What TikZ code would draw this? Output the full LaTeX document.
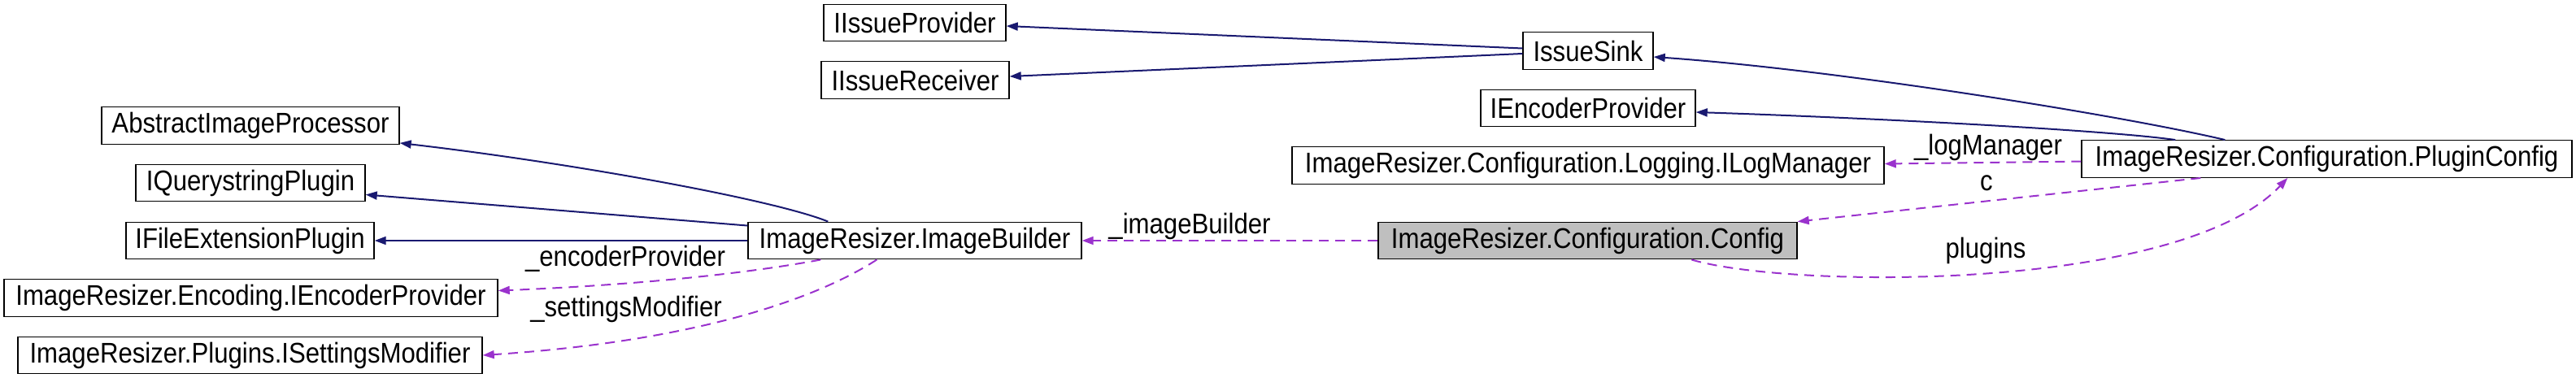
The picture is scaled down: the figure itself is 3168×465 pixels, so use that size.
\documentclass[tikz,border=0pt]{standalone}
\usepackage{fontspec}
\setmainfont[FakeStretch=0.89]{Liberation Sans}
\usetikzlibrary{arrows.meta,calc}
\definecolor{edgeblue}{HTML}{191970}
\definecolor{edgepurple}{HTML}{9A32CD}
\definecolor{cfggray}{HTML}{BFBFBF}
\begin{document}
\begin{tikzpicture}[x=0.5pt,y=-0.5pt,
  font=\fontsize{17.5}{20}\selectfont,
  box/.style={draw=black, line width=0.7pt, fill=white, minimum height=22.75pt, inner sep=0pt, anchor=center},
  inh/.style={draw=edgeblue, line width=1pt, -{Triangle[length=7pt,width=5pt]}},
  usage/.style={draw=edgepurple, line width=1pt, dash pattern=on 6pt off 4pt, -{Triangle[length=7pt,width=5pt]}},
  lbl/.style={inner sep=0pt, text=black}]
\useasboundingbox (0,0) rectangle (3168,465);

\node[box, minimum width=112pt] (iip) at (1125,28) {IIssueProvider};
\node[box, minimum width=115.5pt] (iir) at (1125.5,98.5) {IIssueReceiver};
\node[box, minimum width=80pt] (is) at (1953,62.5) {IssueSink};
\node[box, minimum width=132pt] (iep) at (1953,133) {IEncoderProvider};
\node[box, minimum width=364pt] (lm) at (1953,203.5) {ImageResizer.Configuration.Logging.ILogManager};
\node[box, minimum width=301.5pt] (pc) at (2861.5,195.5) {ImageResizer.Configuration.PluginConfig};
\node[box, minimum width=257.5pt, fill=cfggray] (cfg) at (1952.5,296) {ImageResizer.Configuration.Config};
\node[box, minimum width=183pt] (aip) at (308,154.5) {AbstractImageProcessor};
\node[box, minimum width=141pt] (iqp) at (308,225) {IQuerystringPlugin};
\node[box, minimum width=152.5pt] (ifp) at (307.5,296) {IFileExtensionPlugin};
\node[box, minimum width=205pt] (ib) at (1125,296) {ImageResizer.ImageBuilder};
\node[box, minimum width=303.5pt] (enc) at (308.5,366.5) {ImageResizer.Encoding.IEncoderProvider};
\node[box, minimum width=285.5pt] (ism) at (307.5,437) {ImageResizer.Plugins.ISettingsModifier};

% inheritance edges
\draw[inh] ($(ib.north west)+(99,0)$) .. controls (950,245) and (700,200) .. ($(aip.south east)+(0,-2)$);
\draw[inh] ($(ib.north west)+(0,5)$) -- ($(iqp.south east)+(0,-9)$);
\draw[inh] (ib.west) -- (ifp.east);
\draw[inh] ($(is.west)+(0,-3)$) -- ($(iip.east)+(0,4)$);
\draw[inh] ($(is.west)+(0,3.5)$) -- ($(iir.east)+(0,-4.5)$);
\draw[inh] ($(pc.north west)+(177,0)$) .. controls (2600,140) and (2250,85) .. ($(is.east)+(0,7.5)$);
\draw[inh] ($(pc.north west)+(116,0)$) .. controls (2590,160) and (2300,145) .. ($(iep.east)+(0,5)$);

% usage edges
\draw[usage] ($(pc.west)+(0,3)$) -- ($(lm.east)+(0,-2)$);
\draw[usage] ($(pc.south west)+(147,0)$) -- (cfg.north east);
\draw[usage] ($(cfg.south west)+(386,0)$) .. controls (2200,355) and (2680,360) .. ($(pc.south west)+(254,0)$);
\draw[usage] (cfg.west) -- (ib.east);
\draw[usage] ($(ib.south west)+(90,0)$) .. controls (900,340) and (750,352) .. ($(enc.east)+(0,-9)$);
\draw[usage] ($(ib.south west)+(159,0)$) .. controls (1000,370) and (850,420) .. (ism.east);

% labels
\node[lbl] (llog) at (2445,181) {\_logManager};
\node[lbl] (lc) at (2443,225) {c};
\node[lbl] (lplug) at (2442,308) {plugins};
\node[lbl] (limg) at (1463,278) {\_imageBuilder};
\node[lbl] (lenc) at (769,318) {\_encoderProvider};
\node[lbl] (lset) at (770,380) {\_settingsModifier};
\end{tikzpicture}
\end{document}
